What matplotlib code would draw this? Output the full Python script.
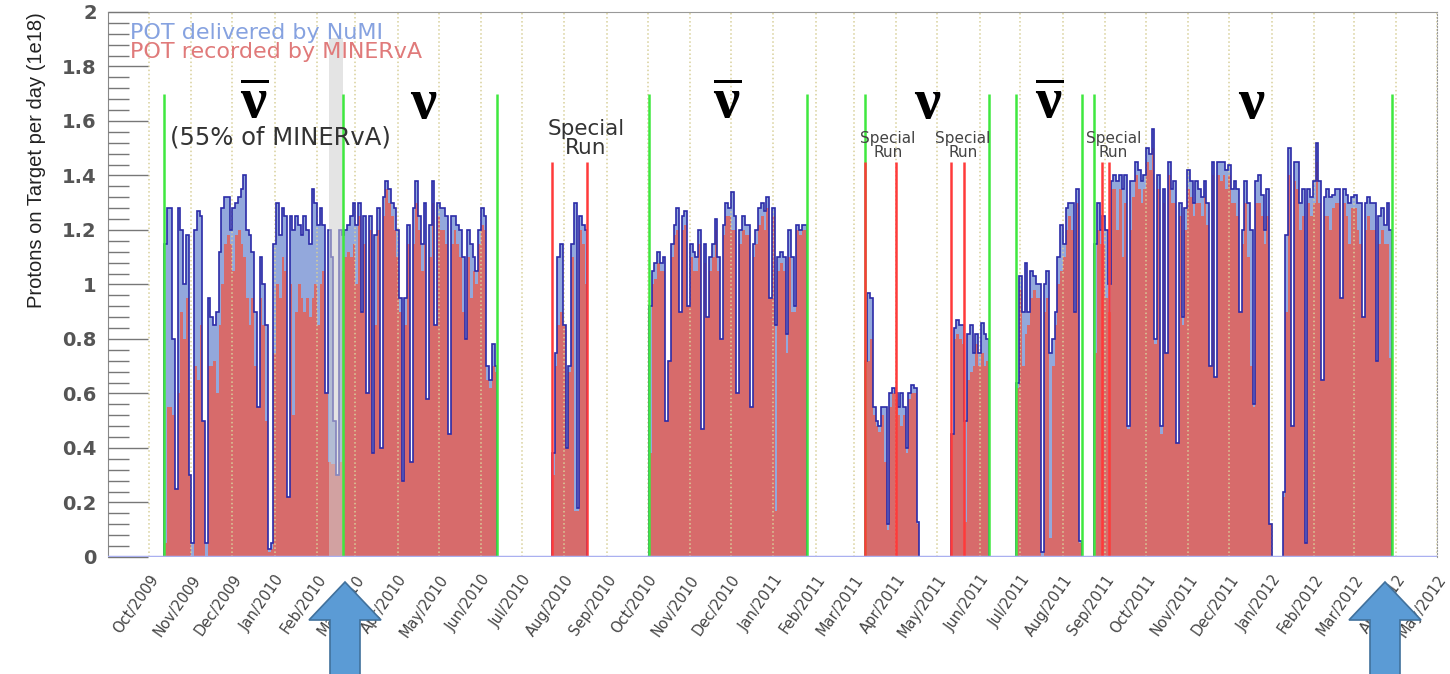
import pandas as pd
import matplotlib
matplotlib.use('Agg')
import matplotlib.pyplot as plt
import matplotlib.dates as mdates
import matplotlib.transforms as mtransforms
from matplotlib.patches import Polygon
from matplotlib.ticker import MultipleLocator

plt.rcParams['mathtext.fontset'] = 'custom'
plt.rcParams['mathtext.rm'] = 'Liberation Serif:bold'

# ---- data: POT per day (1e18), 2-day bins ----
bin_days = 2

start_A = '2009-10-12'
deliv_A = [1.15, 1.28, 1.28, 0.80, 0.25, 1.28, 1.20, 1.00, 1.18, 0.30,
           0.05, 1.20, 1.27, 1.25, 0.50, 0.05, 0.95, 0.88, 0.85, 0.90,
           1.12, 1.28, 1.32, 1.32, 1.20, 1.28, 1.30, 1.32, 1.35, 1.40,
           1.20, 1.18, 1.12, 0.90, 0.55, 1.10, 1.00, 0.85, 0.03, 0.05,
           1.15, 1.30, 1.18, 1.28, 1.25, 0.22, 1.25, 1.20, 1.25, 1.22,
           1.18, 1.25, 1.20, 1.15, 1.35, 1.30, 1.22, 1.28, 1.22, 0.60,
           1.20, 1.10, 0.50, 0.30, 1.20, 1.18,
           1.20, 1.22, 1.25, 1.30, 1.22, 1.30, 0.90, 1.25, 0.60, 1.25,
           0.38, 1.18, 1.28, 0.40, 1.32, 1.38, 1.35, 1.30, 1.28, 1.20,
           0.95, 0.28, 0.95, 1.22, 0.35, 1.28, 1.38, 1.25, 1.15, 1.30,
           0.58, 1.22, 1.38, 0.85, 1.30, 1.28, 1.28, 1.25, 0.45, 1.25,
           1.25, 1.22, 1.20, 1.10, 0.80, 1.20, 1.15, 1.10, 1.05, 1.20,
           1.28, 1.25, 0.70, 0.65, 0.78, 0.70]
rec_A = [0.05, 0.55, 0.55, 0.52, 0.25, 0.60, 0.90, 0.80, 0.95, 0.30,
         0.00, 0.70, 0.65, 0.85, 0.50, 0.00, 0.70, 0.70, 0.72, 0.60,
         0.85, 1.00, 1.15, 1.18, 1.15, 1.05, 1.18, 1.20, 1.15, 1.10,
         0.95, 0.85, 0.95, 0.70, 0.55, 0.95, 0.85, 0.50, 0.02, 0.03,
         0.75, 1.00, 0.95, 1.10, 1.05, 0.22, 1.00, 0.52, 0.90, 1.00,
         0.95, 0.90, 0.95, 0.88, 0.95, 1.00, 0.85, 1.00, 1.05, 0.60,
         0.35, 0.34, 0.34, 0.30, 0.35, 1.05,
         1.10, 1.12, 1.10, 1.15, 1.00, 1.25, 0.90, 1.15, 0.60, 1.20,
         0.38, 0.85, 1.20, 0.40, 1.25, 1.35, 1.30, 1.25, 1.20, 1.10,
         0.90, 0.28, 0.85, 1.15, 0.35, 1.15, 1.30, 1.20, 1.05, 1.15,
         0.58, 1.10, 1.30, 0.85, 1.25, 1.20, 1.20, 1.15, 0.45, 1.15,
         1.20, 1.15, 1.10, 0.90, 0.80, 1.10, 0.95, 1.05, 1.00, 1.15,
         1.22, 1.20, 0.65, 0.62, 0.70, 0.68]

start_B = '2010-07-23'
deliv_B = [0.38, 0.75, 1.10, 1.15, 0.85, 0.40, 0.70, 1.15, 1.30, 0.18, 1.25, 1.22, 1.20]
rec_B = [0.30, 0.70, 0.85, 0.90, 0.85, 0.40, 0.68, 1.10, 0.17, 0.17, 1.20, 1.15, 1.00]

start_C = '2010-10-02'
deliv_C = [0.92, 1.05, 1.08, 1.12, 1.08, 1.10, 0.50, 0.72, 1.15, 1.22,
           1.28, 0.90, 1.25, 1.27, 0.92, 1.15, 1.12, 1.10, 1.20, 0.47,
           1.15, 0.88, 1.10, 1.15, 1.24, 1.10, 0.80, 1.22, 1.30, 1.28,
           1.34, 1.25, 0.60, 1.20, 1.25, 1.22, 1.22, 0.55, 1.15, 1.20,
           1.28, 1.30, 1.27, 1.32, 0.95, 1.28, 0.85, 1.10, 1.12, 1.10,
           0.82, 1.20, 1.10, 0.92, 1.22, 1.20, 1.22, 1.22]
rec_C = [0.38, 1.00, 1.02, 1.08, 1.05, 1.05, 0.50, 0.72, 1.10, 1.18,
         1.20, 0.90, 1.20, 1.22, 0.92, 1.10, 1.05, 1.05, 1.15, 0.47,
         1.08, 0.88, 1.05, 1.10, 1.20, 1.05, 0.80, 1.18, 1.25, 1.25,
         1.20, 1.20, 0.60, 1.15, 1.20, 1.18, 1.18, 0.55, 1.10, 1.15,
         1.22, 1.25, 1.20, 1.28, 0.95, 1.25, 0.17, 1.05, 1.08, 1.05,
         0.75, 1.10, 0.90, 0.90, 1.20, 1.18, 1.20, 1.20]

start_D = '2011-03-09'
deliv_D = [0.72, 0.97, 0.95, 0.55, 0.50, 0.48, 0.55, 0.55, 0.12, 0.60,
           0.62, 0.60, 0.55, 0.60, 0.55, 0.40, 0.60, 0.63, 0.62, 0.13]
rec_D = [0.43, 0.72, 0.80, 0.52, 0.48, 0.46, 0.52, 0.35, 0.10, 0.55,
         0.60, 0.58, 0.52, 0.48, 0.52, 0.38, 0.58, 0.60, 0.60, 0.12]

start_E = '2011-05-11'
deliv_E = [0.45, 0.84, 0.87, 0.85, 0.85, 0.50, 0.82, 0.85, 0.75, 0.82, 0.75, 0.86, 0.82, 0.80]
rec_E = [0.45, 0.80, 0.82, 0.80, 0.78, 0.13, 0.65, 0.68, 0.70, 0.78, 0.70, 0.75, 0.70, 0.72]

start_F = '2011-06-28'
deliv_F = [0.64, 1.03, 0.90, 1.08, 0.90, 1.05, 1.03, 1.00, 1.00, 0.02, 1.00, 1.05,
           0.75, 0.80, 0.90, 1.10, 1.22, 1.15, 1.28, 1.30, 1.30, 0.90, 1.35, 0.06]
rec_F = [0.62, 0.98, 0.70, 0.82, 0.85, 0.95, 0.98, 0.95, 0.95, 0.00, 0.90, 0.95,
         0.07, 0.70, 0.85, 1.00, 1.05, 1.10, 1.20, 1.25, 1.20, 0.90, 1.30, 0.05]

start_G = '2011-08-24'
deliv_G = [1.15, 1.30, 1.20, 1.25, 1.20, 1.00, 1.38, 1.40, 1.38, 1.40,
           1.35, 1.40, 0.48, 1.38, 1.38, 1.45, 1.42, 1.38, 1.40, 1.50,
           1.48, 1.57, 0.80, 1.40, 0.48, 1.35, 0.75, 1.45, 1.35, 1.38,
           0.42, 1.30, 0.88, 1.28, 1.42, 1.38, 1.30, 1.38, 1.35, 1.32,
           1.38, 1.30, 0.70, 1.45, 0.66, 1.45, 1.45, 1.45, 1.42, 1.44,
           1.35, 1.38, 1.35, 0.90, 1.20, 1.38, 1.30, 1.20, 0.56, 1.38,
           1.40, 1.33, 1.20, 1.35, 0.12]
rec_G = [0.75, 1.20, 1.15, 1.15, 0.95, 0.90, 1.35, 1.35, 1.20, 1.35,
         1.10, 1.30, 0.47, 1.20, 1.32, 1.40, 1.35, 1.30, 1.35, 1.45,
         1.42, 1.50, 0.78, 1.35, 0.45, 1.30, 0.75, 1.40, 1.30, 1.30,
         0.42, 1.25, 0.85, 1.20, 1.35, 1.32, 1.25, 1.30, 1.30, 1.25,
         1.32, 1.22, 0.70, 1.40, 0.66, 1.40, 1.38, 1.40, 1.35, 1.40,
         1.30, 1.30, 1.25, 0.90, 1.15, 1.30, 1.10, 0.70, 0.55, 1.30,
         1.30, 1.25, 1.15, 1.25, 0.12]

start_H = '2012-01-09'
deliv_H = [0.24, 1.18, 1.50, 0.48, 1.45, 1.45, 1.30, 1.35, 0.05, 1.35,
           1.32, 1.38, 1.52, 1.38, 0.65, 1.32, 1.35, 1.32, 1.33, 1.35,
           1.35, 0.95, 1.35, 1.33, 1.30, 1.32, 1.33, 1.30, 1.30, 0.88,
           1.30, 1.32, 1.30, 1.30, 0.72, 1.25, 1.28, 1.22, 1.30, 1.20]
rec_H = [0.22, 0.90, 1.40, 0.48, 1.38, 1.35, 1.20, 1.25, 0.05, 1.30,
         1.25, 1.30, 1.45, 1.30, 0.65, 1.25, 1.25, 1.20, 1.28, 1.30,
         1.30, 0.95, 1.30, 1.25, 1.15, 1.28, 1.28, 1.20, 1.15, 0.88,
         1.20, 1.25, 1.20, 1.20, 0.72, 1.15, 1.20, 1.15, 1.15, 0.73]

periods = [(start_A, deliv_A, rec_A), (start_B, deliv_B, rec_B),
           (start_C, deliv_C, rec_C), (start_D, deliv_D, rec_D),
           (start_E, deliv_E, rec_E), (start_F, deliv_F, rec_F),
           (start_G, deliv_G, rec_G), (start_H, deliv_H, rec_H)]

# run boundaries
green_dates = ['2009-10-12', '2010-02-20', '2010-06-13', '2010-10-02', '2011-01-26',
               '2011-03-09', '2011-06-08', '2011-06-28', '2011-08-15', '2011-08-24',
               '2012-03-29']
red_dates = ['2010-07-23', '2010-08-18', '2011-03-09', '2011-04-01',
             '2011-05-11', '2011-05-21', '2011-08-30', '2011-09-04']
shade_span = ('2010-02-10', '2010-02-20')

nu_labels = [(r'$\overline{\mathrm{\nu}}$', '2009-12-17'), (r'$\mathrm{\nu}$', '2010-04-20'),
             (r'$\overline{\mathrm{\nu}}$', '2010-11-28'), (r'$\mathrm{\nu}$', '2011-04-24'),
             (r'$\overline{\mathrm{\nu}}$', '2011-07-22'), (r'$\mathrm{\nu}$', '2011-12-17')]
small_special = ['2011-03-26', '2011-05-20', '2011-09-07']

months = pd.date_range('2009-10-01', '2012-05-01', freq='MS')
month_labels = [m.strftime('%b/%Y') for m in months]
yticks = [0, 0.2, 0.4, 0.6, 0.8, 1.0, 1.2, 1.4, 1.6, 1.8, 2.0]


def dnum(s):
    return mdates.date2num(pd.Timestamp(s))


fig = plt.figure(figsize=(14.5, 6.74), dpi=100)
ax = fig.add_axes([0.0745, 0.1736, 0.9166, 0.8086])

for start, deliv, rec in periods:
    t0 = pd.Timestamp(start)
    edges = mdates.date2num([t0 + pd.Timedelta(days=bin_days * k) for k in range(len(deliv) + 1)])
    ax.stairs(deliv, edges, fill=True, color='#93a8dc', lw=0, zorder=1)
    ax.stairs(rec, edges, fill=True, color='#d76b6b', lw=0, zorder=2)
    ax.stairs(deliv, edges, color='#2b2ba8', lw=1.2, zorder=3)

ax.axhline(0, color='#aab0f0', lw=2.5, zorder=7)

# shaded interval
ax.axvspan(dnum(shade_span[0]), dnum(shade_span[1]), ymin=0, ymax=0.952,
           color='#cfcfcf', alpha=0.55, lw=0, zorder=4)

ax.vlines([dnum(d) for d in green_dates], 0, 1.7, colors='#3fe83f', lw=1.8, zorder=5)
ax.vlines([dnum(d) for d in red_dates], 0, 1.45, colors='#ff3a3a', lw=1.8, zorder=6)

# text annotations
for lab, d in nu_labels:
    ax.text(dnum(d), 1.612, lab, fontsize=42, ha='center', va='baseline', color='black', zorder=8)
ax.text(dnum('2010-01-05'), 1.54, '(55% of MINERvA)', fontsize=17.5, ha='center', va='center',
        color='#333333', zorder=8)
ax.text(dnum('2010-08-17'), 1.535, 'Special\nRun', fontsize=15.5, ha='center', va='center',
        color='#333333', linespacing=0.95, zorder=8)
for d in small_special:
    ax.text(dnum(d), 1.51, 'Special\nRun', fontsize=11, ha='center', va='center',
            color='#444444', linespacing=0.95, zorder=8)

# legend entries as coloured text
blend = mtransforms.blended_transform_factory(ax.transAxes, ax.transData)
ax.text(0.0166, 1.923, 'POT delivered by NuMI', transform=blend, fontsize=16,
        color='#86a2e0', va='center', ha='left', zorder=8)
ax.text(0.0166, 1.853, 'POT recorded by MINERvA', transform=blend, fontsize=16,
        color='#e07a7a', va='center', ha='left', zorder=8)

# axes
ax.set_xlim(dnum('2009-09-01'), dnum('2012-05-01'))
ax.set_ylim(0, 2)
ax.set_xticks(mdates.date2num(months))
ax.set_xticklabels(month_labels, rotation=55, ha='right', va='top',
                   rotation_mode='anchor', fontsize=10.5, color='#444444')
ax.tick_params(axis='x', length=0, pad=11)
ax.grid(axis='x', color='#d8d09a', ls=':', lw=1.1)
ax.set_axisbelow(False)

ax.set_yticks(yticks)
ax.set_yticklabels(['%g' % v for v in yticks], fontsize=14, color='#555555', fontweight='bold')
ax.yaxis.set_minor_locator(MultipleLocator(0.04))
ax.tick_params(axis='y', which='major', direction='in', length=29, width=1, color='#777777', pad=8)
ax.tick_params(axis='y', which='minor', direction='in', length=15, width=1, color='#777777')
ax.set_ylabel('Protons on Target per day (1e18)', fontsize=14.5, loc='top', labelpad=12,
              family='Liberation Sans', color='#222222')

ax.spines['bottom'].set_visible(False)
ax.spines['left'].set_color('#888888')
ax.spines['top'].set_color('#999999')
ax.spines['right'].set_color('#999999')
ax.spines['right'].set_linestyle(':')

# block arrows below the axis (figure pixel coordinates)
W, H = 1450.0, 674.0
for tip in (345, 1385):
    pts = [(tip, 582), (tip + 36, 620), (tip + 15, 620), (tip + 15, 680),
           (tip - 15, 680), (tip - 15, 620), (tip - 36, 620)]
    poly = Polygon([(x / W, 1 - y / H) for x, y in pts], closed=True,
                   facecolor='#5b9bd5', edgecolor='#41719c', lw=1.2,
                   transform=fig.transFigure, zorder=10)
    fig.add_artist(poly)

fig.savefig('out.png', dpi=100)
